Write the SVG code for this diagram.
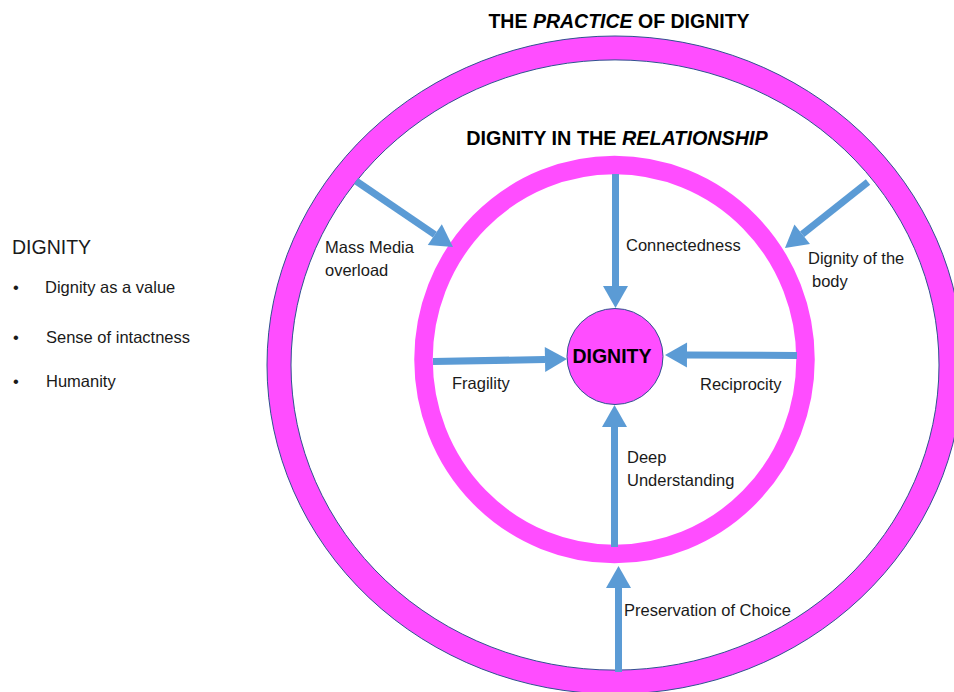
<svg xmlns="http://www.w3.org/2000/svg" width="954" height="692" viewBox="0 0 954 692">
  <style>
    .lbl { font-family: "Liberation Sans", Arial, sans-serif; font-size: 16.5px; fill: #1a1a1a; }
    .ttl { font-family: "Liberation Sans", Arial, sans-serif; font-weight: bold; fill: #000; }
    .ring { fill: #FF4DFF; fill-rule: evenodd; stroke: #2F528F; stroke-width: 1; }
    .arrow { stroke: #5B9BD5; stroke-width: 7; fill: none; marker-end: url(#head); }
  </style>
  <defs>
    <marker id="head" markerUnits="userSpaceOnUse" markerWidth="24" markerHeight="25" refX="0" refY="12.5" orient="auto" overflow="visible">
      <path d="M0,0 L22,12.5 L0,25 Z" fill="#5B9BD5"/>
    </marker>
  </defs>
  <rect width="954" height="692" fill="#fff"/>

  <!-- Left-hand legend -->
  <g id="legend">
    <text class="lbl" x="12" y="254" style="font-size:19.5px">DIGNITY</text>
    <text class="lbl" x="13" y="293">•</text>
    <text class="lbl" x="45" y="293">Dignity as a value</text>
    <text class="lbl" x="13" y="343">•</text>
    <text class="lbl" x="46" y="343">Sense of intactness</text>
    <text class="lbl" x="13" y="387">•</text>
    <text class="lbl" x="46" y="387">Humanity</text>
  </g>

  <!-- Outer ring: the practice of dignity -->
  <g id="practice">
    <path class="ring" d="M267,365 a348,329 0 1,0 696,0 a348,329 0 1,0 -696,0 Z M291,365 a324,305 0 1,0 648,0 a324,305 0 1,0 -648,0 Z"/>
    <text class="ttl" x="619" y="28" text-anchor="middle" font-size="19.5">THE <tspan font-style="italic">PRACTICE</tspan> OF DIGNITY</text>
  </g>

  <!-- Inner ring: dignity in the relationship -->
  <g id="relationship">
    <ellipse cx="614.5" cy="359.5" rx="191" ry="194.5" fill="none" stroke="#FF4DFF" stroke-width="18.5"/>
    <text class="ttl" x="617" y="145" text-anchor="middle" font-size="19.8">DIGNITY IN THE <tspan font-style="italic">RELATIONSHIP</tspan></text>
  </g>

  <!-- Core -->
  <g id="dignity">
    <circle cx="615" cy="356.5" r="48" fill="#FF4DFF" stroke="#2F528F" stroke-width="1"/>
    <text class="ttl" x="612" y="363" text-anchor="middle" font-size="19.5">DIGNITY</text>
  </g>

  <!-- Connectors -->
  <g id="connectors">
    <line class="arrow" x1="615.5" y1="174" x2="615.5" y2="286"/>
    <line class="arrow" x1="614.5" y1="547" x2="614.5" y2="427"/>
    <line class="arrow" x1="433" y1="361.5" x2="545" y2="359.5"/>
    <line class="arrow" x1="797" y1="355.5" x2="687" y2="355"/>
    <line class="arrow" x1="356" y1="181" x2="434.8" y2="234.6"/>
    <line class="arrow" x1="868" y1="182" x2="802.2" y2="234.3"/>
    <line class="arrow" x1="618.5" y1="672" x2="618.5" y2="588"/>
  </g>

  <!-- Connector labels -->
  <g id="labels">
    <text class="lbl" x="325" y="253">Mass Media</text>
    <text class="lbl" x="325" y="276">overload</text>
    <text class="lbl" x="626" y="251">Connectedness</text>
    <text class="lbl" x="808" y="264">Dignity of the</text>
    <text class="lbl" x="812" y="287">body</text>
    <text class="lbl" x="452" y="389">Fragility</text>
    <text class="lbl" x="700" y="390">Reciprocity</text>
    <text class="lbl" x="627" y="463">Deep</text>
    <text class="lbl" x="627" y="486">Understanding</text>
    <text class="lbl" x="624" y="616">Preservation of Choice</text>
  </g>
</svg>
